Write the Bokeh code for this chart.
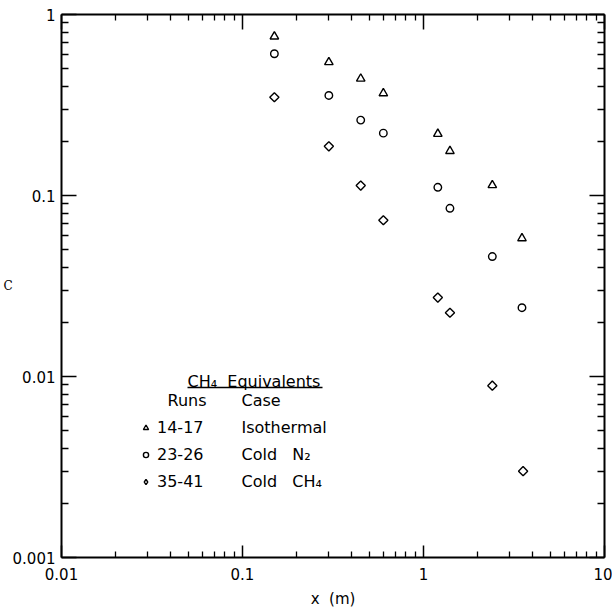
import numpy as np
from bokeh.plotting import figure
from bokeh.models import (LogAxis, FixedTicker, Label, Legend, LegendItem,
                          BoxAnnotation, Range1d, CustomJSTickFormatter)
from bokeh.embed import file_html
from bokeh.resources import INLINE

# Downstream distance x (m) and CH4-equivalent concentration c for each test series
x_iso = [0.15, 0.30, 0.45, 0.60, 1.2, 1.4, 2.4, 3.5]
c_iso = [0.756, 0.545, 0.442, 0.367, 0.219, 0.176, 0.114, 0.058]

x_n2 = [0.15, 0.30, 0.45, 0.60, 1.2, 1.4, 2.4, 3.5]
c_n2 = [0.607, 0.357, 0.261, 0.221, 0.111, 0.085, 0.046, 0.024]

x_ch4 = [0.15, 0.30, 0.45, 0.60, 1.2, 1.4, 2.4, 3.55]
c_ch4 = [0.349, 0.187, 0.1135, 0.073, 0.0273, 0.0225, 0.0089, 0.0030]

NBSP = "\u00a0"
runs = ["14-17", "23-26", "35-41"]
cases = ["Isothermal", "Cold" + NBSP * 3 + "N\u2082", "Cold" + NBSP * 3 + "CH\u2084"]

x_ticks = [0.01, 0.1, 1, 10]
x_tick_labels = ["0.01", "0.1", "1", "10"]
y_ticks = [0.001, 0.01, 0.1, 1]
y_tick_labels = ["0.001", "0.01", "0.1", "1"]

FONT = "DejaVu Sans"


def decade_minors(majors):
    out = []
    for m in majors[:-1]:
        out += [k * m for k in range(2, 10)]
    return out


def tick_formatter(vals, labels):
    return CustomJSTickFormatter(
        args=dict(tick_vals=vals, tick_text=labels),
        code="""
        for (let i = 0; i < tick_vals.length; i++) {
            if (Math.abs(Math.log10(tick_vals[i]) - Math.log10(tick)) < 1e-6) return tick_text[i];
        }
        return '';
        """)


p = figure(x_axis_type="log", y_axis_type="log",
           x_range=Range1d(0.01, 10), y_range=Range1d(0.001, 1),
           frame_width=543, frame_height=543,
           min_border_left=61, min_border_right=8,
           min_border_top=14, min_border_bottom=52,
           output_backend="svg", toolbar_location=None,
           background_fill_color="white", border_fill_color="white",
           outline_line_color=None)
p.grid.visible = False

# Extra frame axes on top and right (ticks only)
p.add_layout(LogAxis(), "above")
p.add_layout(LogAxis(), "right")


def style_axis(ax, majors, major_in, minor_in):
    ax.ticker = FixedTicker(ticks=majors, minor_ticks=decade_minors(majors))
    ax.axis_line_color = "black"
    ax.axis_line_width = 2
    ax.major_tick_in = major_in
    ax.major_tick_out = 0
    ax.minor_tick_in = minor_in
    ax.minor_tick_out = 0
    ax.major_tick_line_color = "black"
    ax.minor_tick_line_color = "black"
    ax.major_tick_line_width = 1.5
    ax.minor_tick_line_width = 1.3


style_axis(p.below[0], x_ticks, 12, 6)
style_axis(p.above[0], x_ticks, 15, 6)
style_axis(p.left[0], y_ticks, 15, 7)
style_axis(p.right[0], y_ticks, 15, 7)

for ax in (p.above[0], p.right[0]):
    ax.major_label_text_font_size = "1px"
    ax.major_label_text_color = None
    ax.major_label_standoff = 0

xb = p.below[0]
xb.formatter = tick_formatter(x_ticks, x_tick_labels)
xb.major_label_text_font = FONT
xb.major_label_text_font_size = "15px"
xb.major_label_text_color = "black"
xb.major_label_standoff = 10
xb.axis_label = "x" + NBSP * 2 + "(m)"
xb.axis_label_text_font = FONT
xb.axis_label_text_font_size = "15px"
xb.axis_label_text_font_style = "normal"
xb.axis_label_text_color = "black"
xb.axis_label_standoff = 7

yl = p.left[0]
yl.formatter = tick_formatter(y_ticks, y_tick_labels)
yl.major_label_text_font = FONT
yl.major_label_text_font_size = "15px"
yl.major_label_text_color = "black"
yl.major_label_standoff = 6
yl.axis_label = "C"
yl.axis_label_orientation = "horizontal"
yl.axis_label_text_font = "DejaVu Serif"
yl.axis_label_text_font_size = "12px"
yl.axis_label_text_font_style = "normal"
yl.axis_label_text_color = "black"
yl.axis_label_standoff = -3

# Data series
r_iso = p.scatter(x_iso, c_iso, marker="triangle", size=8.5, fill_color=None,
                  line_color="black", line_width=1.4)
r_n2 = p.scatter(x_n2, c_n2, marker="circle", size=7.5, fill_color=None,
                 line_color="black", line_width=1.4)
r_ch4 = p.scatter(x_ch4, c_ch4, marker="square", angle=np.pi / 4, size=6.5,
                  fill_color=None, line_color="black", line_width=1.4)
# hidden twin of the cold-CH4 series that supplies its key symbol
# (legend markers are drawn unrotated, so the key uses the diamond marker)
r_ch4_key = p.scatter(x_ch4, c_ch4, marker="diamond", fill_color=None,
                      line_color="black", line_width=1.4, visible=False)

# Key: symbol + run numbers via Legend, case names and headings as labels
legend = Legend(
    items=[LegendItem(label=runs[0], renderers=[r_iso]),
           LegendItem(label=runs[1], renderers=[r_n2]),
           LegendItem(label=runs[2], renderers=[r_ch4_key])],
    location=(78, 66), orientation="vertical",
    glyph_width=13, glyph_height=13, label_standoff=5, spacing=7,
    label_height=20, padding=0, margin=0,
    background_fill_alpha=0, border_line_color=None,
    label_text_font=FONT, label_text_font_size="16px", label_text_color="black")
p.add_layout(legend)

row_y = [130, 103, 76]
for txt, yy in zip(cases, row_y):
    p.add_layout(Label(x=180, y=yy, x_units="screen", y_units="screen", text=txt,
                       text_font=FONT, text_font_size="16px", text_baseline="middle",
                       text_color="black"))

for txt, xx in (("Runs", 106), ("Case", 180)):
    p.add_layout(Label(x=xx, y=157, x_units="screen", y_units="screen", text=txt,
                       text_font=FONT, text_font_size="16px", text_baseline="middle",
                       text_color="black"))

p.add_layout(Label(x=126, y=176, x_units="screen", y_units="screen",
                   text="CH\u2084" + NBSP * 2 + "Equivalents", text_font=FONT,
                   text_font_size="16px", text_baseline="middle", text_color="black"))
p.add_layout(BoxAnnotation(left=126, right=261, bottom=169.3, top=170.7,
                           left_units="screen", right_units="screen",
                           bottom_units="screen", top_units="screen",
                           fill_color="black", fill_alpha=1, line_color=None))

open("out.html", "w").write(file_html(p, INLINE))
